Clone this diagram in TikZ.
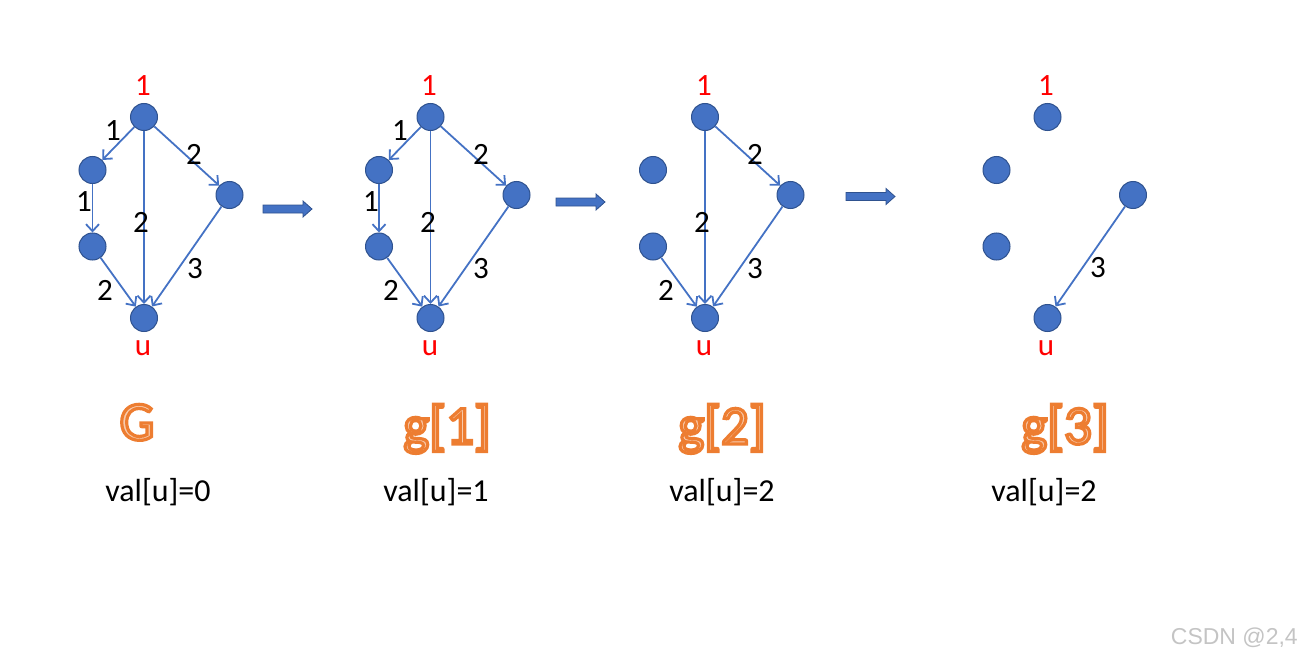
\documentclass[tikz,border=0pt]{standalone}
\usepackage{fontspec}
\setmainfont{Carlito}
\newfontfamily\wmfont{Liberation Sans}
\usetikzlibrary{arrows.meta}
\definecolor{nodeblue}{HTML}{4472C4}
\definecolor{nodeedge}{HTML}{2F528F}
\definecolor{tor}{HTML}{ED7D31}
\definecolor{tlight}{HTML}{F8CBAD}
\definecolor{wmgray}{HTML}{C4C4C4}
\newcommand\otext[1]{{\color{tlight}\special{pdf:literal direct 0.929 0.490 0.192 RG 2 Tr 3.2 w}#1\special{pdf:literal direct 0 Tr 1 w}}}
\tikzset{
  vtx/.style={circle,fill=nodeblue,draw=nodeedge,line width=1pt,minimum size=27pt,inner sep=0pt},
  edge/.style={draw=nodeblue,line width=1.8pt,-{Straight Barb[length=7pt,width=13pt,line width=1.8pt]}},
  wlab/.style={inner sep=0pt,font=\fontsize{31}{33}\selectfont,text=black},
  rlab/.style={inner sep=0pt,font=\fontsize{31}{33}\selectfont,text=red},
  ttl/.style={inner sep=0pt,anchor=base,font=\fontsize{55}{58}\selectfont,text=tor},
  vallab/.style={inner sep=0pt,anchor=base,font=\fontsize{32}{36}\selectfont,text=black},
  fatarrow/.style={fill=nodeblue,draw=nodeedge,line width=0.8pt},
}
\begin{document}
\begin{tikzpicture}[x=1pt,y=-1pt]
\useasboundingbox (0,0) rectangle (1309,658);

% ---------- Graph G ----------
\node[vtx] (a1) at (144,117) {};
\node[vtx] (a2) at (92.5,170) {};
\node[vtx] (a3) at (92.5,246.5) {};
\node[vtx] (a4) at (229.5,195) {};
\node[vtx] (au) at (144,318) {};
\draw[edge] (a1) -- (a2);
\draw[edge] (a2) -- (a3);
\draw[edge] (a1) -- (au);
\draw[edge] (a1) -- (a4);
\draw[edge] (a3) -- (au);
\draw[edge] (a4) -- (au);
\node[rlab] (a1l) at (143,86) {1};
\node[rlab] (aul) at (143,348) {u};
\node[wlab] (ae1) at (113,131) {1};
\node[wlab] (ae2) at (194,154) {2};
\node[wlab] (ae3) at (84,202) {1};
\node[wlab] (ae4) at (141,222) {2};
\node[wlab] (ae5) at (195,269) {3};
\node[wlab] (ae6) at (105,290) {2};
\node[ttl] (at) at (137,440) {\otext{G}};
\node[vallab] (av) at (158,501) {val[u]=0};

% ---------- Graph g[1] ----------
\node[vtx] (b1) at (430.5,117) {};
\node[vtx] (b2) at (379,170) {};
\node[vtx] (b3) at (379,246.5) {};
\node[vtx] (b4) at (516.5,195) {};
\node[vtx] (bu) at (430.5,318) {};
\draw[edge] (b1) -- (b2);
\draw[edge] (b2) -- (b3);
\draw[edge] (b1) -- (bu);
\draw[edge] (b1) -- (b4);
\draw[edge] (b3) -- (bu);
\draw[edge] (b4) -- (bu);
\node[rlab] (b1l) at (429,86) {1};
\node[rlab] (bul) at (430,348) {u};
\node[wlab] (be1) at (400,131) {1};
\node[wlab] (be2) at (481,154) {2};
\node[wlab] (be3) at (371,202) {1};
\node[wlab] (be4) at (428,222) {2};
\node[wlab] (be5) at (481,269) {3};
\node[wlab] (be6) at (391,290) {2};
\node[ttl] (bt) at (447,444) {\otext{g[1]}};
\node[vallab] (bv) at (436,501) {val[u]=1};

% ---------- Graph g[2] ----------
\node[vtx] (c1) at (705,117) {};
\node[vtx] (c2) at (653,170) {};
\node[vtx] (c3) at (653,246.5) {};
\node[vtx] (c4) at (790.5,195) {};
\node[vtx] (cu) at (705,318) {};
\draw[edge] (c1) -- (cu);
\draw[edge] (c1) -- (c4);
\draw[edge] (c3) -- (cu);
\draw[edge] (c4) -- (cu);
\node[rlab] (c1l) at (704,86) {1};
\node[rlab] (cul) at (704,348) {u};
\node[wlab] (ce2) at (755,154) {2};
\node[wlab] (ce4) at (702,222) {2};
\node[wlab] (ce5) at (755,269) {3};
\node[wlab] (ce6) at (666,290) {2};
\node[ttl] (ct) at (722,444) {\otext{g[2]}};
\node[vallab] (cv) at (722,501) {val[u]=2};

% ---------- Graph g[3] ----------
\node[vtx] (d1) at (1047.5,117) {};
\node[vtx] (d2) at (996.5,170) {};
\node[vtx] (d3) at (996.5,246.5) {};
\node[vtx] (d4) at (1133,195) {};
\node[vtx] (du) at (1047.5,318) {};
\draw[edge] (d4) -- (du);
\node[rlab] (d1l) at (1046,86) {1};
\node[rlab] (dul) at (1046,348) {u};
\node[wlab] (de5) at (1098,268) {3};
\node[ttl] (dt) at (1065,444) {\otext{g[3]}};
\node[vallab] (dv) at (1044,501) {val[u]=2};

% ---------- fat arrows ----------
\path[fatarrow] (263,205) -- (303,205) -- (303,201) -- (312,209) -- (303,217) -- (303,213) -- (263,213) -- cycle;
\path[fatarrow] (556,198) -- (596,198) -- (596,194) -- (605,202) -- (596,210) -- (596,206) -- (556,206) -- cycle;
\path[fatarrow] (846,192.5) -- (886,192.5) -- (886,188.5) -- (895,196.5) -- (886,204.5) -- (886,200.5) -- (846,200.5) -- cycle;

% ---------- watermark ----------
\node[inner sep=0pt,anchor=base east,font=\wmfont\fontsize{23}{25}\selectfont,text=wmgray] (wm) at (1298,644) {CSDN @2,4};
\end{tikzpicture}
\end{document}
